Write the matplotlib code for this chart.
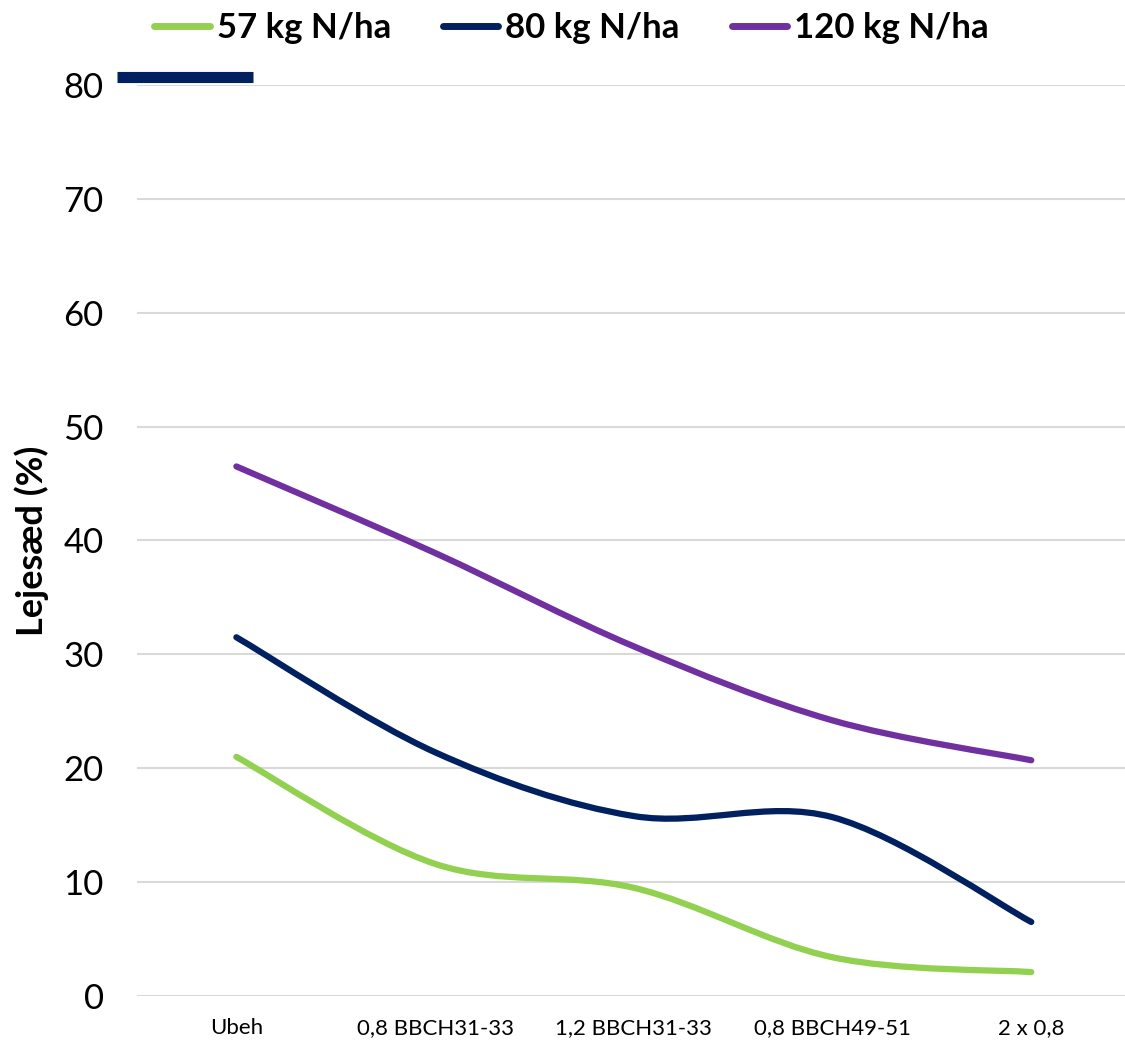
import numpy as np
import matplotlib.pyplot as plt
from matplotlib.path import Path
from matplotlib.patches import PathPatch
from matplotlib.lines import Line2D

categories = ["Ubeh", "0,8 BBCH31-33", "1,2 BBCH31-33", "0,8 BBCH49-51", "2 x 0,8"]
n57 = [21.0, 11.6, 9.5, 3.4, 2.1]
n80 = [31.5, 21.4, 15.8, 15.7, 6.5]
n120 = [46.5, 38.9, 30.7, 24.2, 20.7]
series_labels = ["57 kg N/ha", "80 kg N/ha", "120 kg N/ha"]
colors = ["#92D050", "#002060", "#7030A0"]

plt.rcParams['font.family'] = ['Lato', 'DejaVu Sans']


def smooth_path(xs, ys):
    # Excel-like smoothed line: cubic Bezier segments (Catmull-Rom control points)
    pts = np.column_stack([xs, ys]).astype(float)
    n = len(pts)
    verts = [pts[0]]
    codes = [Path.MOVETO]
    for i in range(n - 1):
        p_prev = pts[max(i - 1, 0)]
        p0 = pts[i]
        p1 = pts[i + 1]
        p_next = pts[min(i + 2, n - 1)]
        c1 = p0 + (p1 - p_prev) / 6.0
        c2 = p1 - (p_next - p0) / 6.0
        verts += [c1, c2, p1]
        codes += [Path.CURVE4] * 3
    return Path(verts, codes)


fig = plt.figure(figsize=(11.25, 10.45), dpi=100)
ax = fig.add_axes([0.1218, 0.0469, 0.8832, 0.8718])

x = np.arange(len(categories))
handles = []
for vals, lab, col in zip([n57, n80, n120], series_labels, colors):
    patch = PathPatch(smooth_path(x, vals), facecolor="none", edgecolor=col,
                      linewidth=4.5, capstyle="round", joinstyle="round", zorder=3)
    ax.add_patch(patch)
    handles.append(Line2D([0], [0], color=col, linewidth=5, solid_capstyle="round"))

ax.set_xlim(-0.5, len(categories) - 0.5)
ax.set_ylim(0, 80)
ax.set_yticks(np.arange(0, 81, 10))
ax.set_xticks(x)
ax.set_xticklabels(categories, fontsize=16, color="#000000")
ax.tick_params(axis="y", labelsize=25, length=0, pad=24, colors="#000000")
ax.tick_params(axis="x", length=0, pad=16)
ax.grid(axis="y", color="#d9d9d9", linewidth=1.5)
ax.set_axisbelow(True)
for s in ax.spines.values():
    s.set_visible(False)

ax.set_ylabel("Lejesæd (%)", fontsize=26, fontweight="bold", labelpad=10)

fig.legend(handles, series_labels, loc="upper center", bbox_to_anchor=(0.508, 1.018),
           ncol=3, frameon=False, prop={"size": 25, "weight": "bold"},
           handlelength=1.6, handletextpad=0.2, columnspacing=1.5)

# stray navy bar in the top left corner of the original
fig.add_artist(Line2D([0.104, 0.225], [0.9265, 0.9265], color="#002060",
                      linewidth=8, solid_capstyle="butt"))

fig.savefig("out.png", dpi=100)
